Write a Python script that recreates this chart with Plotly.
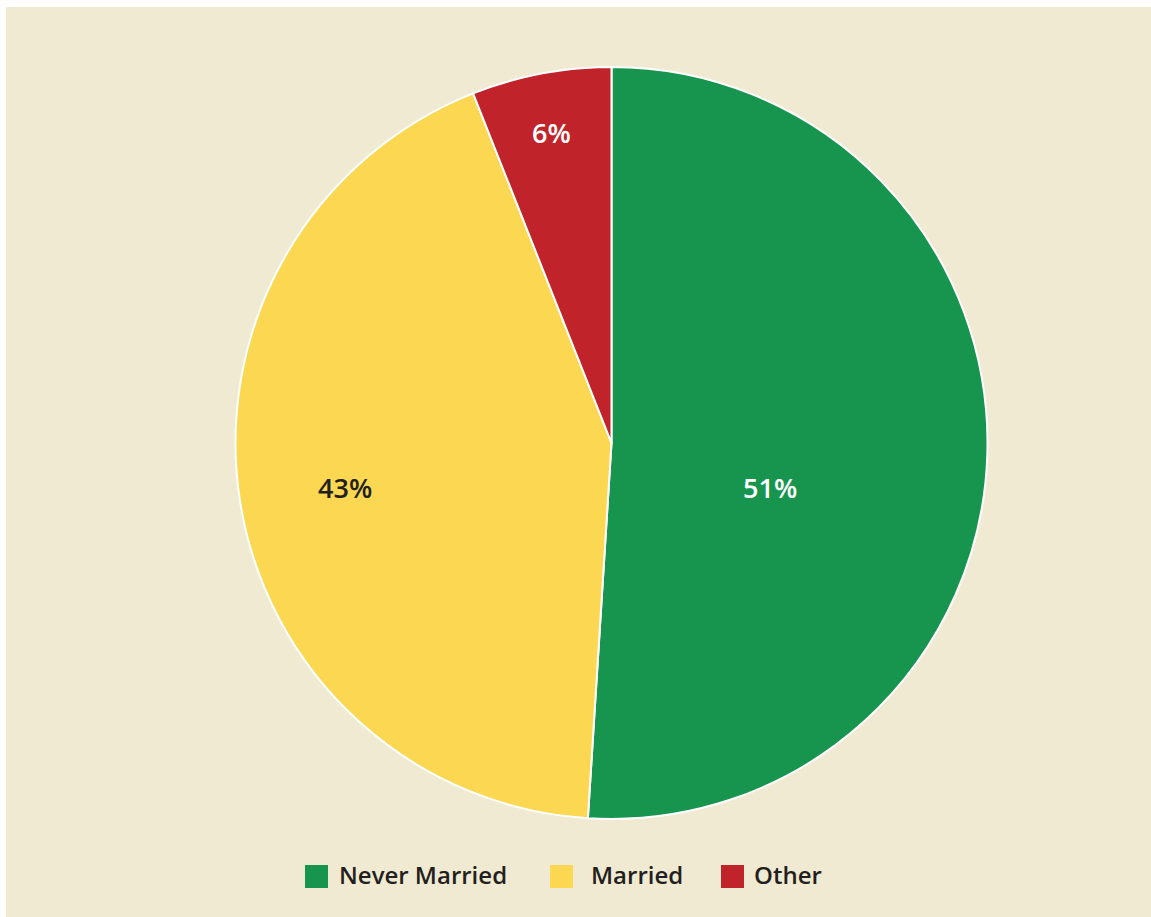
import plotly.graph_objects as go

W, H = 1151, 917

categories = ["Never Married", "Married", "Other"]
shares = [51, 43, 6]
colors = ["#17954E", "#FBD752", "#C0242A"]
label_colors = ["#FFFFFF", "#231F20", "#FFFFFF"]

bg = "#F0EAD2"
text_dark = "#231F20"

# pie geometry in pixels
cx, cy, r = 611.5, 443, 376
# percentage label anchor points in pixels
label_pos = [(770, 487), (345, 487), (551, 132)]


def px(x):
    return x / W


def py(y):
    return 1 - y / H


fig = go.Figure(
    go.Pie(
        labels=categories,
        values=shares,
        sort=False,
        direction="clockwise",
        rotation=0,
        marker=dict(colors=colors, line=dict(color="#FFFFFF", width=2)),
        textinfo="none",
        hoverinfo="label+percent",
        domain=dict(x=[px(cx - r), px(cx + r)], y=[py(cy + r), py(cy - r)]),
        showlegend=False,
    )
)

shapes = [
    # white frame strips on the left and top edge
    dict(type="rect", xref="paper", yref="paper", x0=0, x1=px(6), y0=0, y1=1,
         fillcolor="#FFFFFF", line=dict(width=0), layer="below"),
    dict(type="rect", xref="paper", yref="paper", x0=0, x1=1, y0=py(7), y1=1,
         fillcolor="#FFFFFF", line=dict(width=0), layer="below"),
]
annotations = []

# slice value labels
for v, (lx, ly), lc in zip(shares, label_pos, label_colors):
    annotations.append(dict(xref="paper", yref="paper", x=px(lx), y=py(ly),
                            xanchor="center", yanchor="middle", showarrow=False,
                            text=f"{v}%",
                            font=dict(family="Open Sans", size=27, color=lc, weight=600)))

# legend built from swatches and labels
legend_x = [305, 550, 721]
legend_text_x = [339, 591, 754]
sw_top, sw_bot = 865, 888
for name, col, sx, tx in zip(categories, colors, legend_x, legend_text_x):
    shapes.append(dict(type="rect", xref="paper", yref="paper",
                       x0=px(sx), x1=px(sx + 23), y0=py(sw_bot), y1=py(sw_top),
                       fillcolor=col, line=dict(width=0)))
    annotations.append(dict(xref="paper", yref="paper", x=px(tx - 2), y=py(874),
                            xanchor="left", yanchor="middle", showarrow=False, text=name,
                            font=dict(family="Open Sans", size=24, color=text_dark, weight=600)))

fig.update_layout(
    width=W, height=H,
    margin=dict(l=0, r=0, t=0, b=0),
    paper_bgcolor=bg,
    plot_bgcolor=bg,
    shapes=shapes,
    annotations=annotations,
)

fig.write_html("out.html")
